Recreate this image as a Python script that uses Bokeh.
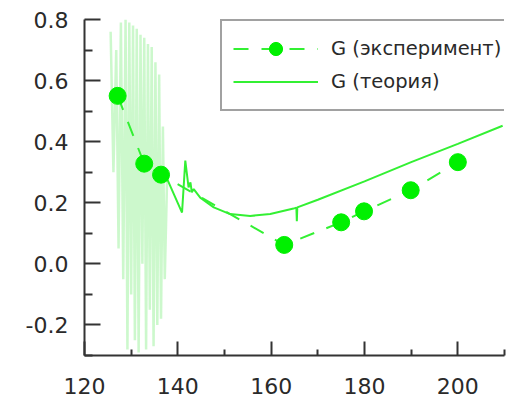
from bokeh.plotting import figure
from bokeh.models import Range1d, FixedTicker, PrintfTickFormatter, Legend, LegendItem
from bokeh.embed import file_html
from bokeh.resources import INLINE

# Experiment: G (эксперимент)
exp_x = [127.1, 132.8, 136.4, 162.8, 175.0, 179.9, 189.9, 200.0]
exp_y = [0.55, 0.328, 0.292, 0.062, 0.136, 0.172, 0.241, 0.333]

# Theory: G (теория) — smooth part
theory_x = [137.7, 140.9, 141.6, 142.3, 142.7, 143.0, 143.4, 144.8, 147.7, 151.2,
            155.5, 159.8, 164.8, 165.4, 165.5, 165.6, 170.0, 180.0, 190.0, 200.0, 209.6]
theory_y = [0.278, 0.168, 0.338, 0.250, 0.267, 0.234, 0.245, 0.217, 0.185, 0.163,
            0.157, 0.163, 0.181, 0.184, 0.140, 0.185, 0.210, 0.270, 0.333, 0.393, 0.452]

# Theory: oscillating part at low temperatures (pale)
noise_x = [125.6, 126.2, 126.8, 127.3, 127.8, 128.3, 128.8, 129.2, 129.6, 130.0,
           130.4, 130.8, 131.2, 131.6, 132.0, 132.4, 132.8, 133.2, 133.6, 134.0,
           134.4, 134.8, 135.2, 135.6, 136.0, 136.4, 136.8, 137.2, 137.7]
noise_y = [0.76, 0.30, 0.70, 0.05, 0.79, -0.05, 0.80, -0.28, 0.79, -0.10,
           0.78, -0.25, 0.77, -0.29, 0.75, 0.00, 0.74, -0.28, 0.72, -0.15,
           0.71, -0.27, 0.66, -0.20, 0.62, -0.18, 0.45, -0.05, 0.278]

x_ticks = [120, 140, 160, 180, 200]
x_minor = [130, 150, 170, 190, 210]
y_ticks = [-0.2, 0.0, 0.2, 0.4, 0.6, 0.8]
y_minor = [-0.3, -0.1, 0.1, 0.3, 0.5, 0.7]

p = figure(width=524, height=401, output_backend="svg", toolbar_location=None,
           x_range=Range1d(120, 210), y_range=Range1d(-0.3, 0.8),
           min_border_left=84, min_border_right=20, min_border_top=19, min_border_bottom=46)
p.outline_line_color = None
p.xgrid.visible = False
p.ygrid.visible = False
p.background_fill_color = "white"
p.border_fill_color = "white"

p.line(noise_x, noise_y, line_color="#c6f7c6", line_width=2.5, line_alpha=0.9)
r_th = p.line(theory_x, theory_y, line_color="#33f033", line_width=2)
r_exp_line = p.line(exp_x, exp_y, line_color="#33f033", line_width=2, line_dash="15 13")
r_exp_pts = p.scatter(exp_x, exp_y, size=17, fill_color="#00f000", line_color="#00f000")

for ax, ticks, minor in ((p.xaxis[0], x_ticks, x_minor), (p.yaxis[0], y_ticks, y_minor)):
    ax.ticker = FixedTicker(ticks=ticks, minor_ticks=minor)
    ax.axis_line_color = "#333333"
    ax.axis_line_width = 2
    ax.major_tick_line_color = "#333333"
    ax.major_tick_line_width = 2
    ax.minor_tick_line_color = "#333333"
    ax.minor_tick_line_width = 2
    ax.major_tick_out = 0
    ax.minor_tick_out = 0
    ax.major_label_text_font = "DejaVu Sans"
    ax.major_label_text_font_size = "22px"
    ax.major_label_text_color = "#2a2a2a"

p.yaxis[0].major_tick_in = 16
p.yaxis[0].minor_tick_in = 8
p.yaxis[0].major_label_standoff = 16
p.yaxis[0].formatter = PrintfTickFormatter(format="%.1f")
p.xaxis[0].major_tick_in = 14
p.xaxis[0].minor_tick_in = 6
p.xaxis[0].major_label_standoff = 22

legend = Legend(items=[
    LegendItem(label="G (эксперимент)", renderers=[r_exp_line, r_exp_pts]),
    LegendItem(label="G (теория)", renderers=[r_th]),
], location=(136, 244))
legend.glyph_width = 85
legend.glyph_height = 33
legend.label_height = 33
legend.spacing = 0
legend.padding = 11
legend.margin = 0
legend.label_standoff = 13
legend.label_width = 188
legend.label_text_font = "DejaVu Sans"
legend.label_text_font_size = "19.5px"
legend.label_text_color = "#2a2a2a"
legend.border_line_color = "#444444"
legend.border_line_width = 2.5
legend.background_fill_color = "white"
legend.background_fill_alpha = 1
p.add_layout(legend, "center")

open("out.html", "w").write(file_html(p, INLINE))
